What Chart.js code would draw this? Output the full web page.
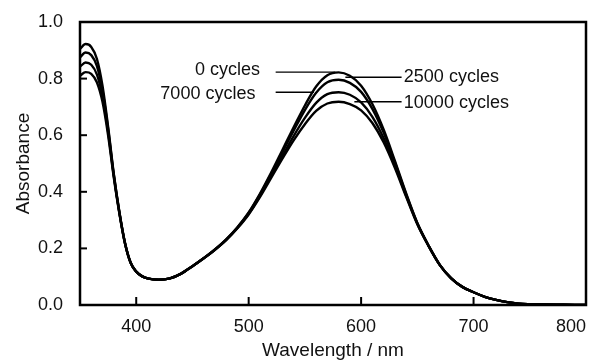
<!DOCTYPE html>
<html lang="en">
<head>
<meta charset="UTF-8">
<title>Absorbance vs wavelength</title>
<script src="https://cdn.jsdelivr.net/npm/chart.js"></script>
<style>
  body {
    margin: 0;
    background: #fff;
  }
  #wrap {
    width: 594px;
    height: 362px;
  }
</style>
</head>
<body>
<div id="wrap"><canvas id="spectra"></canvas></div>

<script>
// wavelength grid (nm)
const wavelengths = [350, 355, 360, 365, 370, 375, 380, 385, 390, 395, 400, 405, 410, 420, 430, 440, 450, 460, 470, 480,
  490, 500, 510, 520, 530, 540, 550, 560, 570, 580, 590, 600, 610, 620, 630, 640, 650, 660, 670, 680,
  690, 700, 710, 720, 730, 740, 750, 760, 780, 800];

// absorbance
const cycles0 = [0.905, 0.922, 0.912, 0.870, 0.775, 0.630, 0.465, 0.330, 0.220, 0.150, 0.118, 0.102, 0.094, 0.089, 0.094, 0.111, 0.137, 0.165, 0.196, 0.232,
  0.275, 0.327, 0.393, 0.468, 0.548, 0.628, 0.705, 0.772, 0.812, 0.822, 0.810, 0.775, 0.710, 0.620, 0.510, 0.395, 0.290, 0.210, 0.142, 0.095,
  0.064, 0.045, 0.029, 0.018, 0.010, 0.005, 0.003, 0.002, 0.001, 0.000];
const cycles2500 = [0.875, 0.892, 0.883, 0.845, 0.758, 0.622, 0.462, 0.328, 0.219, 0.150, 0.118, 0.102, 0.094, 0.089, 0.094, 0.111, 0.137, 0.165, 0.196, 0.231,
  0.274, 0.325, 0.390, 0.463, 0.540, 0.616, 0.689, 0.750, 0.787, 0.796, 0.785, 0.753, 0.693, 0.609, 0.504, 0.392, 0.289, 0.210, 0.142, 0.095,
  0.064, 0.045, 0.029, 0.018, 0.010, 0.005, 0.003, 0.002, 0.001, 0.000];
const cycles7000 = [0.842, 0.857, 0.849, 0.815, 0.738, 0.612, 0.457, 0.326, 0.218, 0.149, 0.118, 0.102, 0.094, 0.089, 0.094, 0.111, 0.137, 0.165, 0.195, 0.230,
  0.272, 0.322, 0.385, 0.455, 0.527, 0.597, 0.661, 0.714, 0.745, 0.752, 0.743, 0.716, 0.665, 0.590, 0.493, 0.387, 0.287, 0.209, 0.141, 0.095,
  0.064, 0.045, 0.029, 0.018, 0.010, 0.005, 0.003, 0.002, 0.001, 0.000];
const cycles10000 = [0.810, 0.823, 0.817, 0.787, 0.718, 0.600, 0.452, 0.324, 0.217, 0.149, 0.118, 0.102, 0.094, 0.089, 0.094, 0.111, 0.137, 0.165, 0.195, 0.229,
  0.271, 0.320, 0.381, 0.449, 0.517, 0.582, 0.639, 0.686, 0.712, 0.718, 0.710, 0.688, 0.643, 0.575, 0.485, 0.383, 0.285, 0.208, 0.141, 0.094,
  0.064, 0.045, 0.029, 0.018, 0.010, 0.005, 0.003, 0.002, 0.001, 0.000];

const seriesNames = ['0 cycles', '2500 cycles', '7000 cycles', '10000 cycles'];

// leader lines next to the peak (nm, absorbance)
const leaderX = [[524, 577], [586, 636], [524, 558], [594, 636]];
const leaderY = [0.823, 0.805, 0.752, 0.718];
// where each label text sits (nm, absorbance); left-side labels end there, right-side ones start there
const labelX = [510, 638, 506, 638];
const labelY = [0.832, 0.805, 0.744, 0.712];
const labelSide = ['right', 'left', 'right', 'left'];

const xTicks = [400, 500, 600, 700, 800];
const yTicks = [0.0, 0.2, 0.4, 0.6, 0.8, 1.0];

const FONT = '"Liberation Sans", Arial, sans-serif';

function toPoints(ys) {
  return wavelengths.map((w, i) => ({ x: w, y: ys[i] }));
}

const curves = [cycles0, cycles2500, cycles7000, cycles10000].map((ys, i) => ({
  label: seriesNames[i],
  data: toPoints(ys),
  borderColor: '#000',
  borderWidth: 2.4,
  pointRadius: 0,
  cubicInterpolationMode: 'monotone',
  fill: false
}));

const leaders = leaderX.map((xs, i) => ({
  label: 'leader ' + i,
  data: xs.map(x => ({ x: x, y: leaderY[i] })),
  borderColor: '#000',
  borderWidth: 1.4,
  pointRadius: 0,
  fill: false
}));

// frame, inward tick marks and the series labels
const framePlugin = {
  id: 'frame',
  afterDatasetsDraw(chart) {
    const { ctx, chartArea: a, scales } = chart;
    ctx.save();
    ctx.strokeStyle = '#000';
    ctx.lineWidth = 2;
    xTicks.forEach(v => {
      const px = scales.x.getPixelForValue(v);
      ctx.beginPath();
      ctx.moveTo(px, a.bottom);
      ctx.lineTo(px, a.bottom - 8);
      ctx.stroke();
    });
    yTicks.forEach(v => {
      const py = scales.y.getPixelForValue(v);
      ctx.beginPath();
      ctx.moveTo(a.left, py);
      ctx.lineTo(a.left + 7, py);
      ctx.stroke();
    });
    ctx.lineWidth = 2.5;
    ctx.strokeRect(a.left, a.top, a.right - a.left, a.bottom - a.top);

    ctx.fillStyle = '#111';
    ctx.font = '18px ' + FONT;
    ctx.textBaseline = 'middle';
    seriesNames.forEach((name, i) => {
      ctx.textAlign = labelSide[i];
      ctx.fillText(name, scales.x.getPixelForValue(labelX[i]), scales.y.getPixelForValue(labelY[i]));
    });
    ctx.restore();
  }
};

new Chart(document.getElementById('spectra'), {
  type: 'line',
  data: { datasets: curves.concat(leaders) },
  options: {
    responsive: true,
    maintainAspectRatio: false,
    animation: false,
    layout: { padding: { left: 0, top: 22, right: 8, bottom: 0 } },
    plugins: {
      legend: { display: false },
      tooltip: { enabled: false }
    },
    scales: {
      x: {
        type: 'linear',
        min: 350,
        max: 800,
        border: { display: false },
        grid: { display: false, drawTicks: false },
        afterBuildTicks(scale) {
          scale.ticks = [{ value: 350 }].concat(xTicks.map(v => ({ value: v })));
        },
        afterFit(scale) {
          scale.height = 57;
          scale.paddingLeft = 0;
          scale.paddingRight = 0;
        },
        ticks: {
          align: 'inner',
          padding: 11,
          color: '#111',
          font: { family: FONT, size: 18 },
          maxRotation: 0,
          callback: v => (v === 350 ? '' : String(v))
        },
        title: {
          display: true,
          text: 'Wavelength / nm',
          color: '#111',
          font: { family: FONT, size: 19 },
          padding: { top: 0, bottom: 0 }
        }
      },
      y: {
        min: 0,
        max: 1,
        border: { display: false },
        grid: { display: false, drawTicks: false },
        afterBuildTicks(scale) {
          scale.ticks = yTicks.map(v => ({ value: v }));
        },
        afterFit(scale) {
          scale.width = 80;
          scale.paddingTop = 0;
          scale.paddingBottom = 0;
        },
        ticks: {
          padding: 17,
          color: '#111',
          font: { family: FONT, size: 18 },
          callback: v => v.toFixed(1)
        },
        title: {
          display: true,
          text: 'Absorbance',
          color: '#111',
          font: { family: FONT, size: 19 },
          padding: { top: 12, bottom: 0 }
        }
      }
    }
  },
  plugins: [framePlugin]
});
</script>
</body>
</html>
